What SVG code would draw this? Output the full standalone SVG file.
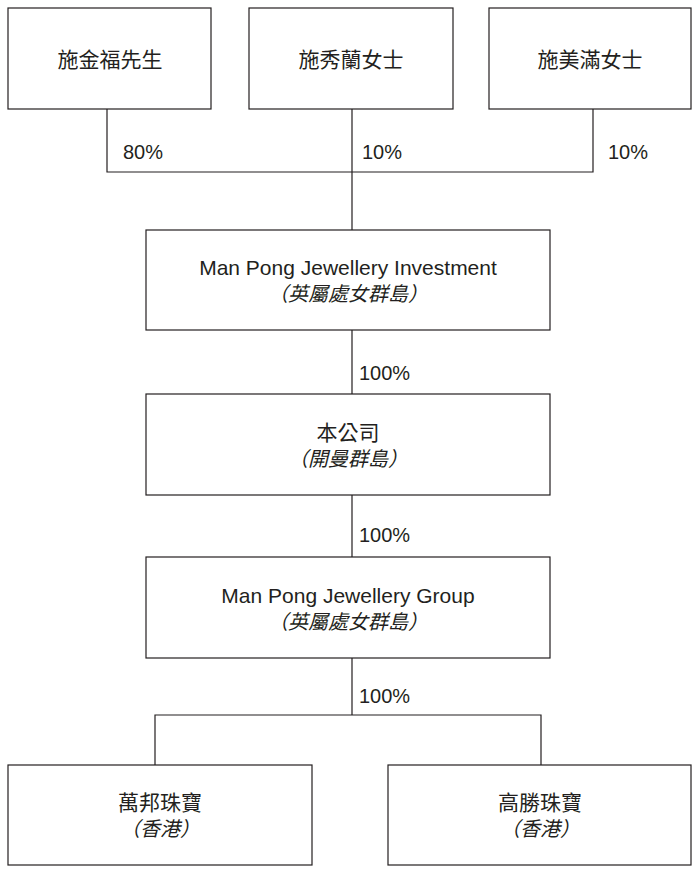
<svg xmlns="http://www.w3.org/2000/svg" width="699" height="873" viewBox="0 0 699 873">
<style>
.b{fill:#fff;stroke:#231f20;stroke-width:1.2}
.t{font-family:"Liberation Sans","Noto Sans CJK TC",sans-serif;font-size:21px;fill:#231f20;text-anchor:middle}
.i{font-family:"Liberation Sans","Noto Sans CJK TC",sans-serif;font-size:20px;fill:#231f20;text-anchor:middle;font-style:italic}
.p{font-family:"Liberation Sans",sans-serif;font-size:20px;fill:#231f20}
.c{fill:none;stroke:#231f20;stroke-width:1.2}
</style>
<rect width="699" height="873" fill="#fff"/>
<g id="connectors">
<path class="c" d="M107 109V172H593V109M352 109V230M352 330V394M352 495V557M352 658V715M155 765V715H541V765"/>
<text class="p" x="123" y="159">80%</text>
<text class="p" x="362" y="159">10%</text>
<text class="p" x="608" y="159">10%</text>
<text class="p" x="359" y="380">100%</text>
<text class="p" x="359" y="542">100%</text>
<text class="p" x="359" y="703">100%</text>
</g>
<g id="n1"><rect class="b" x="8" y="8" width="203" height="101"/><text class="t" x="110" y="67">施金福先生</text></g>
<g id="n2"><rect class="b" x="249" y="8" width="204" height="101"/><text class="t" x="351" y="67">施秀蘭女士</text></g>
<g id="n3"><rect class="b" x="489" y="8" width="202" height="101"/><text class="t" x="590" y="67">施美滿女士</text></g>
<g id="n4"><rect class="b" x="146" y="230" width="404" height="100"/><text class="t" x="348" y="275">Man Pong Jewellery Investment</text><text class="i" x="348" y="301">（英屬處女群島）</text></g>
<g id="n5"><rect class="b" x="146" y="394" width="404" height="101"/><text class="t" x="348" y="440">本公司</text><text class="i" x="348" y="466">（開曼群島）</text></g>
<g id="n6"><rect class="b" x="146" y="557" width="404" height="101"/><text class="t" x="348" y="603">Man Pong Jewellery Group</text><text class="i" x="348" y="629">（英屬處女群島）</text></g>
<g id="n7"><rect class="b" x="8" y="765" width="304" height="100"/><text class="t" x="160" y="810">萬邦珠寶</text><text class="i" x="160" y="836">（香港）</text></g>
<g id="n8"><rect class="b" x="388" y="765" width="303" height="100"/><text class="t" x="540" y="810">高勝珠寶</text><text class="i" x="540" y="836">（香港）</text></g>
</svg>
